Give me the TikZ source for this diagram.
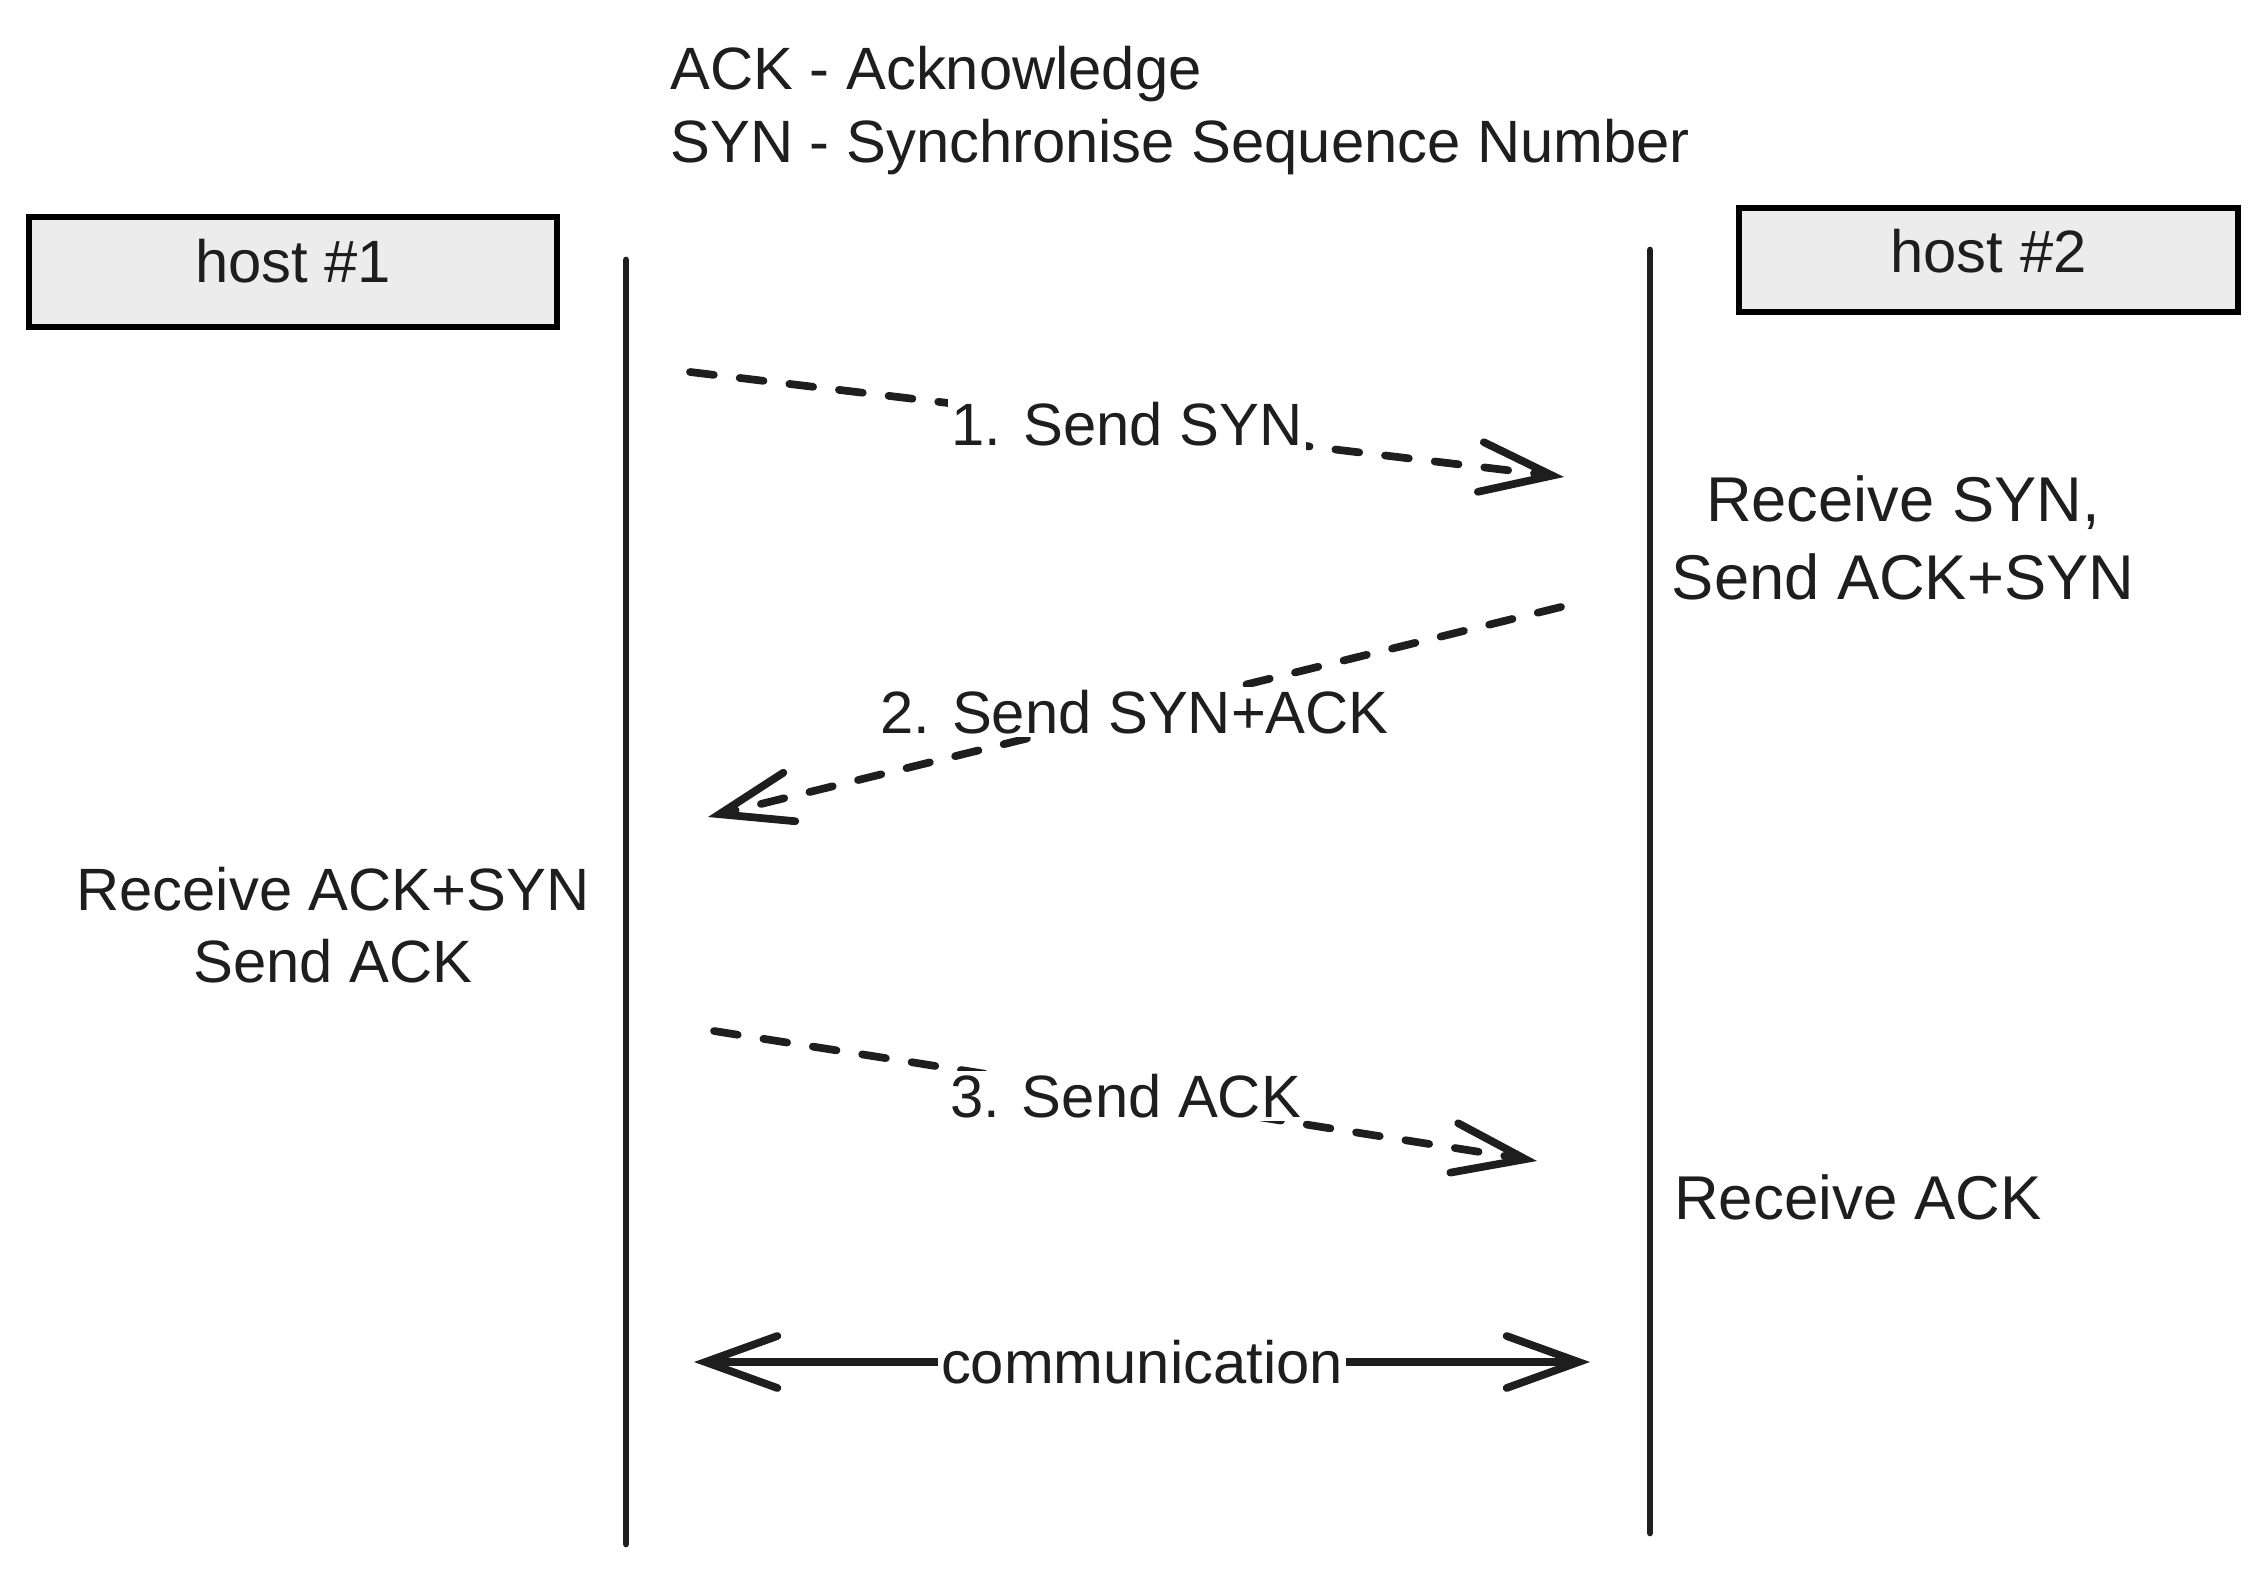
\documentclass[tikz,border=0pt]{standalone}
\usepackage{fontspec}
\setmainfont{Liberation Sans}
\usetikzlibrary{arrows.meta}
\definecolor{ink}{HTML}{1E1E1E}
\definecolor{boxfill}{HTML}{ECECEC}

\tikzset{
	host/.style={draw=black, fill=boxfill, line width=1.6pt, text=ink},
	life/.style={draw=ink, line width=1.9pt, line cap=round},
	msg/.style={draw=ink, line width=2.2pt, line cap=round, dash pattern=on 0.24cm off 0.26cm, -{Straight Barb[length=0.72cm, width=0.5cm, line cap=round]}},
	both/.style={draw=ink, line width=2.2pt, line cap=round, {Straight Barb[length=0.72cm, width=0.52cm, line cap=round]}-{Straight Barb[length=0.72cm, width=0.52cm, line cap=round]}},
	lbl/.style={fill=white, inner sep=1pt, midway}
}

\begin{document}
\begin{tikzpicture}[every node/.style={text=ink, font=\fontsize{17}{20}\selectfont}]
			\useasboundingbox (0,0) rectangle (22.67,-15.74);

			\node[anchor=base west] (k1) at (6.58,-0.90) {ACK - Acknowledge};
			\node[anchor=base west] (k2) at (6.58,-1.63) {SYN - Synchronise Sequence Number};

			\node[host, minimum width=5.28cm, minimum height=1.10cm, text depth=6.6pt] (h1) at (2.93,-2.72) {host \#1};
			\node[host, minimum width=4.99cm, minimum height=1.04cm, text depth=5pt] (h2) at (19.885,-2.60) {host \#2};

			\coordinate (t1) at (6.26,-2.60);
			\coordinate (b1) at (6.26,-15.44);
			\coordinate (t2) at (16.50,-2.50);
			\coordinate (b2) at (16.50,-15.33);

			\coordinate (s1) at (6.90,-3.72);
			\coordinate (e1) at (15.64,-4.77);
			\coordinate (s2) at (15.61,-6.07);
			\coordinate (e2) at (7.08,-8.17);
			\coordinate (s3) at (7.14,-10.31);
			\coordinate (e3) at (15.37,-11.61);
			\coordinate (c1) at (6.94,-13.62);
			\coordinate (c2) at (15.90,-13.62);

			\node[align=center, font=\fontsize{18}{22.4}\selectfont] (r1) at (19.03,-5.38) {Receive SYN,\\Send ACK+SYN};
			\node[align=center, font=\fontsize{17}{20.5}\selectfont] (r2) at (3.33,-9.25) {Receive ACK+SYN\\Send ACK};
			\node[font=\fontsize{17.6}{22}\selectfont] (r3) at (18.58,-11.97) {Receive ACK};

			\path
				(t1) edge[life] (b1)
				(t2) edge[life] (b2)

				(s1) edge[msg] node[lbl] {1. Send SYN} (e1)
				(s2) edge[msg] node[lbl] {2. Send SYN+ACK} (e2)
				(s3) edge[msg] node[lbl] {3. Send ACK} (e3)

				(c1) edge[both] node[lbl] {communication} (c2)
			;
		\end{tikzpicture}
\end{document}
